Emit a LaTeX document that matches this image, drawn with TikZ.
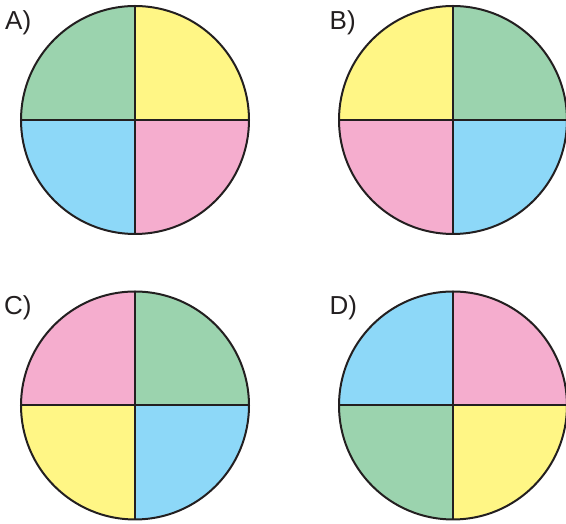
\documentclass[tikz,border=0pt]{standalone}
\usepackage{fontspec}
\setmainfont{Liberation Sans}
\definecolor{qgreen}{HTML}{9BD3AE}
\definecolor{qyellow}{HTML}{FFF685}
\definecolor{qblue}{HTML}{8DD8F8}
\definecolor{qpink}{HTML}{F5ADCE}
\newcommand\quadcircle[6]{%
  % #1 x, #2 y, #3 TL, #4 TR, #5 BL, #6 BR
  \fill[#4] (#1,#2) -- ++(114,0) arc[start angle=0,end angle=90,radius=114] -- cycle;
  \fill[#3] (#1,#2) -- ++(0,114) arc[start angle=90,end angle=180,radius=114] -- cycle;
  \fill[#5] (#1,#2) -- ++(-114,0) arc[start angle=180,end angle=270,radius=114] -- cycle;
  \fill[#6] (#1,#2) -- ++(0,-114) arc[start angle=270,end angle=360,radius=114] -- cycle;
  \draw[outl] (#1,#2) circle[radius=114];
  \draw[outl] (#1-114,#2) -- (#1+114,#2);
  \draw[outl] (#1,#2-114) -- (#1,#2+114);
}
\begin{document}
\begin{tikzpicture}[x=1pt,y=1pt,
  outl/.style={line width=2pt,draw={rgb,255:red,35;green,31;blue,32}},
  lbl/.style={anchor=base west,inner sep=0pt,font=\fontsize{26}{30}\selectfont,text={rgb,255:red,35;green,31;blue,32}}]
\useasboundingbox (0,0) rectangle (566,524);
\quadcircle{135}{404}{qgreen}{qyellow}{qblue}{qpink}
\quadcircle{453}{404}{qyellow}{qgreen}{qpink}{qblue}
\quadcircle{135}{118.5}{qpink}{qgreen}{qyellow}{qblue}
\quadcircle{453}{118.5}{qblue}{qpink}{qgreen}{qyellow}
\node[lbl] (la) at (5,494.5) {A)};
\node[lbl] (lb) at (329.5,494.5) {B)};
\node[lbl] (lc) at (4,209.7) {C)};
\node[lbl] (ld) at (329.5,209.7) {D)};
\end{tikzpicture}
\end{document}
